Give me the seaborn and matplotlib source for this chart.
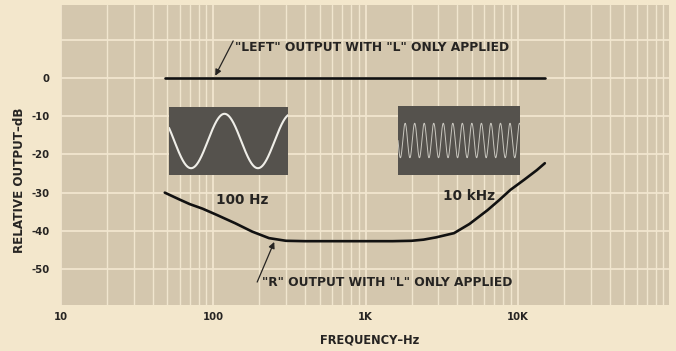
import numpy as np
import pandas as pd
import matplotlib
matplotlib.use("Agg")
import matplotlib.pyplot as plt
import seaborn as sns
from matplotlib.ticker import LogLocator, FixedLocator, NullFormatter

# Frequency response data (Hz, dB)
left_freq = [48, 15000]
left_level = [0, 0]

r_freq = [48, 60, 70, 85, 105, 139, 180, 232, 300, 400, 700, 1000, 1500, 2000,
          2400, 2900, 3800, 4800, 6300, 7500, 8900, 11000, 13300, 15000]
r_level = [-30.0, -31.8, -33.0, -34.2, -35.8, -38.0, -40.2, -41.9, -42.6, -42.7,
           -42.7, -42.7, -42.7, -42.6, -42.3, -41.7, -40.6, -38.2, -34.6, -32.0,
           -29.3, -26.6, -24.1, -22.3]

x_ticks = [10, 100, 1000, 10000]
x_tick_labels = ["10", "100", "1K", "10K"]
y_ticks = [0, -10, -20, -30, -40, -50]
y_tick_labels = ["0", "-10", "-20", "-30", "-40", "-50"]

paper = "#f3e7cc"
plot_bg = "#d4c7ae"
grid_col = "#f1e6cf"
ink = "#262422"

sns.set_theme(style="white")
plt.rcParams["font.family"] = ["DejaVu Sans"]

fig = plt.figure(figsize=(6.76, 3.51), dpi=100, facecolor=paper)
ax = fig.add_axes([61 / 676, 1 - 305 / 351, 608 / 676, 300 / 351])
ax.set_facecolor(plot_bg)

ax.set_xscale("log")
ax.set_xlim(10.46, 98000)
ax.set_ylim(-59.4, 19.1)

# graph-paper grid
ax.xaxis.set_major_locator(FixedLocator(x_ticks))
ax.xaxis.set_minor_locator(LogLocator(base=10, subs=np.arange(2, 10)))
ax.xaxis.set_minor_formatter(NullFormatter())
ax.set_xticks(x_ticks)
ax.set_xticklabels(x_tick_labels)
ax.set_yticks([10] + y_ticks)
ax.set_yticklabels([""] + y_tick_labels)
ax.grid(which="major", axis="both", color=grid_col, linewidth=1.3)
ax.grid(which="minor", axis="x", color=grid_col, linewidth=1.0)
ax.set_axisbelow(True)
ax.tick_params(which="both", length=0)
ax.tick_params(axis="x", pad=5, labelsize=7.3, labelcolor=ink)
ax.tick_params(axis="y", pad=8, labelsize=7.3, labelcolor=ink)
for lab in ax.get_xticklabels() + ax.get_yticklabels():
    lab.set_fontweight("bold")
for s in ax.spines.values():
    s.set_visible(False)

left_df = pd.DataFrame({"freq": left_freq, "level": left_level})
r_df = pd.DataFrame({"freq": r_freq, "level": r_level})
sns.lineplot(data=left_df, x="freq", y="level", ax=ax, color="#111111",
             linewidth=1.9, estimator=None, sort=False)
sns.lineplot(data=r_df, x="freq", y="level", ax=ax, color="#111111",
             linewidth=1.9, estimator=None, sort=False)
ax.set_xlabel("")
ax.set_ylabel("")

# callouts
arrow = dict(arrowstyle="-|>", color=ink, lw=0.9, mutation_scale=9,
             shrinkA=0, shrinkB=0)
ax.annotate("", xy=(103, 0.6), xytext=(135, 9.7), arrowprops=arrow)
ax.text(139, 8.1, '"LEFT" OUTPUT WITH "L" ONLY APPLIED', ha="left",
        va="center", fontsize=8.8, fontweight="bold", color=ink)
ax.annotate("", xy=(251, -42.9), xytext=(194, -53.4), arrowprops=arrow)
ax.text(209, -53.4, '"R" OUTPUT WITH "L" ONLY APPLIED', ha="left",
        va="center", fontsize=8.8, fontweight="bold", color=ink)

ax.text(155, -31.8, "100 Hz", ha="center", va="center", fontsize=9.8,
        fontweight="bold", color=ink)
ax.text(4800, -30.8, "10 kHz", ha="center", va="center", fontsize=9.8,
        fontweight="bold", color=ink)

fig.text(20 / 676, 1 - 180 / 351, "RELATIVE OUTPUT\u2013dB", rotation=90,
         ha="center", va="center", fontsize=8.6, fontweight="bold", color=ink)
fig.text(370 / 676, 1 - 340 / 351, "FREQUENCY\u2013Hz", ha="center",
         va="center", fontsize=8.3, fontweight="bold", color=ink)

# oscilloscope traces of the two test tones
scope_bg = "#55524d"

def scope(rect, cycles, phase, amp, color, lw):
    sax = fig.add_axes(rect)
    sax.set_facecolor(scope_bg)
    t = np.linspace(0, 1, 1200)
    trace = pd.DataFrame({"t": t,
                          "v": -amp * np.cos(2 * np.pi * (cycles * t - phase))})
    sns.lineplot(data=trace, x="t", y="v", ax=sax, color=color, linewidth=lw,
                 estimator=None, sort=False)
    sax.set_xlim(0, 1)
    sax.set_ylim(-1, 1)
    sax.set_xticks([])
    sax.set_yticks([])
    sax.set_xlabel("")
    sax.set_ylabel("")
    for s in sax.spines.values():
        s.set_visible(False)

scope([169 / 676, 1 - 175 / 351, 119 / 676, 68 / 351], 1.78, 0.33, 0.8,
      "#efeee8", 1.5)
scope([398 / 676, 1 - 175 / 351, 122 / 676, 69 / 351], 12.8, 0.25, 0.5,
      "#c9c7bf", 0.7)

fig.savefig("out.png", dpi=100, facecolor=paper)
